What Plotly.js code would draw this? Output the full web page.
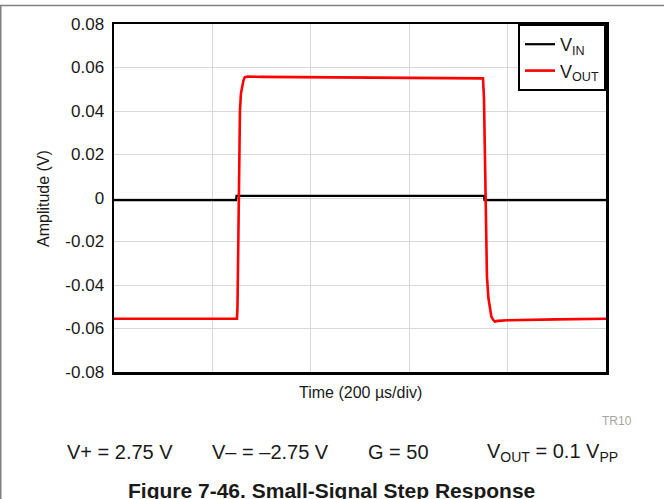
<!DOCTYPE html>
<html>
<head>
<meta charset="utf-8">
<script src="https://cdn.plot.ly/plotly-3.0.1.min.js"></script>
<style>
  html, body { margin: 0; padding: 0; background: #fff; }
  #chart { width: 664px; height: 499px; }
</style>
</head>
<body>
<div id="chart"></div>
<script>
// Time in microseconds (200 µs/div, 5 divisions)
const vinTime  = [0, 248, 249, 752, 753, 1000];
const vinValue = [-0.001, -0.001, 0.001, 0.001, -0.001, -0.001];

const voutTime  = [0, 250, 251, 253, 256, 258, 261, 263, 266, 272, 300, 450, 600, 750, 752, 755, 758, 761, 764, 767, 770, 774, 780, 800, 900, 1000];
const voutValue = [-0.0555, -0.0555, -0.050, -0.015, 0.040, 0.048, 0.052, 0.054, 0.0556, 0.0558, 0.0557, 0.0554, 0.0552, 0.0550, 0.046, 0.005, -0.036, -0.046, -0.0515, -0.0545, -0.0558, -0.0568, -0.0565, -0.0562, -0.0558, -0.0555];

const yTickVals = [-0.08, -0.06, -0.04, -0.02, 0, 0.02, 0.04, 0.06, 0.08];
const yTickText = ["-0.08", "-0.06", "-0.04", "-0.02", "0", "0.02", "0.04", "0.06", "0.08"];
const xGridVals = [0, 200, 400, 600, 800, 1000];

const seriesNames = ["V<sub>IN</sub>", "V<sub>OUT</sub>"];
const xTitle = "Time (200 µs/div)";
const yTitle = "Amplitude (V)";
const conditions = ["V+ = 2.75 V", "V– = –2.75 V", "G = 50", "V<sub>OUT</sub> = 0.1 V<sub>PP</sub>"];
const caption = "<b>Figure 7-46. Small-Signal Step Response</b>";
const tag = "TR10";

const FONT = "Liberation Sans, Arial, Helvetica, sans-serif";
const W = 664, H = 499, L = 114, R = 58, T = 24, B = 127;
const pw = W - L - R, ph = H - T - B;
const px = x => (x - L) / pw;
const py = y => (H - B - y) / ph;

const traces = [
  { x: vinTime, y: vinValue, name: seriesNames[0], mode: "lines",
    line: { color: "#000000", width: 2.2 } },
  { x: voutTime, y: voutValue, name: seriesNames[1], mode: "lines",
    line: { color: "#ff0000", width: 2.6 } }
];

const condX = [67, 212, 368, 487];
const annotations = [
  { text: xTitle, x: px(360), y: py(392), xref: "paper", yref: "paper", showarrow: false,
    xanchor: "center", yanchor: "middle", font: { family: FONT, size: 16, color: "#1a1a1a" } },
  { text: yTitle, x: px(43), y: py(199), xref: "paper", yref: "paper", showarrow: false,
    textangle: -90, xanchor: "center", yanchor: "middle", font: { family: FONT, size: 16, color: "#1a1a1a" } },
  { text: tag, x: px(634), y: py(421), xref: "paper", yref: "paper", showarrow: false,
    xanchor: "right", yanchor: "middle", font: { family: FONT, size: 12, color: "#a6a6a6" } },
  { text: caption, x: px(331), y: py(490), xref: "paper", yref: "paper", showarrow: false,
    xanchor: "center", yanchor: "middle", font: { family: FONT, size: 21, color: "#1a1a1a" } }
];
conditions.forEach((c, i) => annotations.push({
  text: c, x: px(condX[i]), y: py(452), xref: "paper", yref: "paper", showarrow: false,
  xanchor: "left", yanchor: "middle", xshift: -2, font: { family: FONT, size: 20, color: "#1a1a1a" }
}));

const layout = {
  width: W, height: H,
  margin: { l: L, r: R, t: T, b: B, pad: 0 },
  paper_bgcolor: "#ffffff", plot_bgcolor: "#ffffff",
  font: { family: FONT, color: "#1a1a1a" },
  showlegend: true,
  legend: {
    x: 1, y: 1, xanchor: "right", yanchor: "top",
    bgcolor: "#ffffff", bordercolor: "#000000", borderwidth: 2,
    font: { family: FONT, size: 18, color: "#1a1a1a" },
    tracegroupgap: 0, itemwidth: 30
  },
  xaxis: {
    range: [0, 1000], tickvals: xGridVals, showticklabels: false, ticks: "",
    showgrid: true, gridcolor: "#d9d9d9", gridwidth: 1,
    showline: true, linecolor: "#000000", linewidth: 2.5, mirror: true,
    zeroline: false, fixedrange: true
  },
  yaxis: {
    range: [-0.08, 0.08], tickvals: yTickVals, ticktext: yTickText,
    tickfont: { family: FONT, size: 17, color: "#1a1a1a" }, ticks: "", ticklabelstandoff: 4,
    showgrid: true, gridcolor: "#d9d9d9", gridwidth: 1,
    showline: true, linecolor: "#000000", linewidth: 2.5, mirror: true,
    zeroline: false, fixedrange: true
  },
  annotations: annotations,
  shapes: [
    { type: "line", xref: "paper", yref: "paper", x0: px(0), x1: px(664), y0: py(5.5), y1: py(5.5),
      line: { color: "#808080", width: 1.5 } },
    { type: "line", xref: "paper", yref: "paper", x0: px(0.75), x1: px(0.75), y0: py(5), y1: py(499),
      line: { color: "#808080", width: 1.5 } }
  ]
};

Plotly.newPlot("chart", traces, layout, { staticPlot: true, displayModeBar: false });
</script>
</body>
</html>
